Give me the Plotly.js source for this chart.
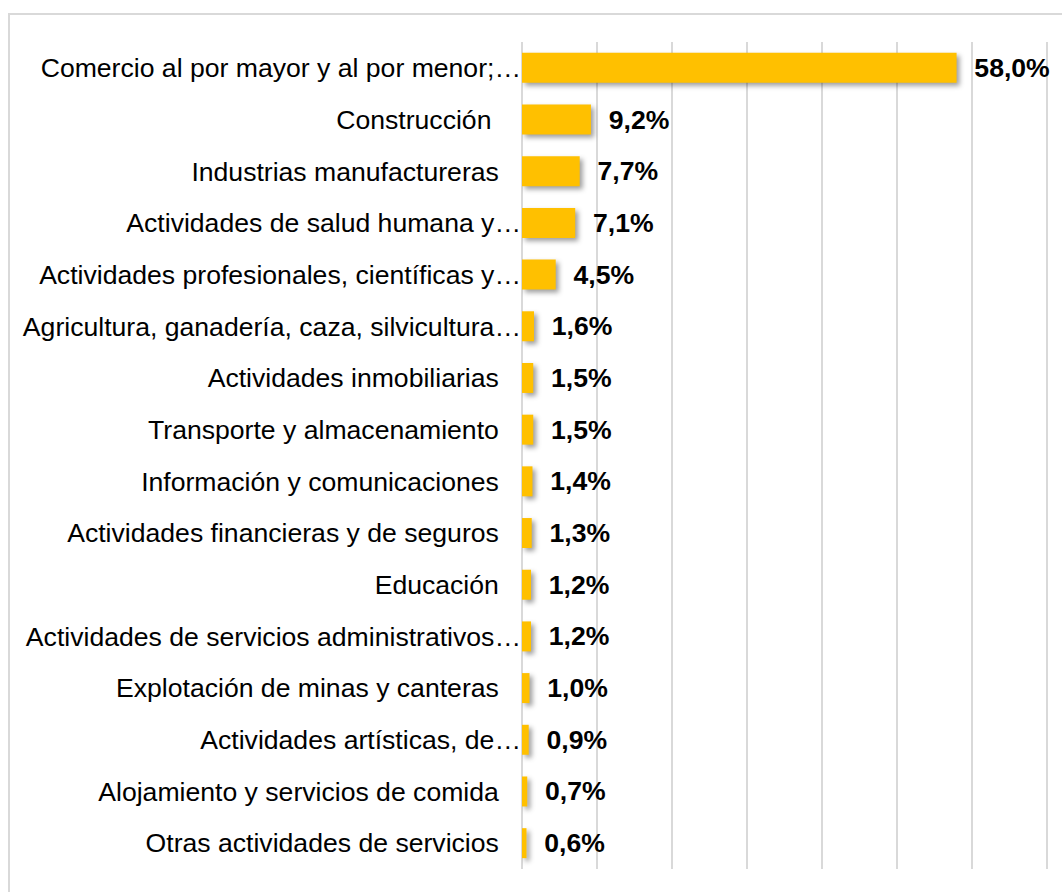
<!DOCTYPE html>
<html>
<head>
<meta charset="utf-8">
<script src="https://cdn.plot.ly/plotly-3.0.1.min.js"></script>
<style>
  html, body { margin: 0; padding: 0; background: #fff; overflow: hidden; }
  #frame { position: absolute; left: 8px; top: 13px; width: 1200px; height: 1000px; border: 2px solid #d9d9d9; box-sizing: border-box; }
  #chart { position: absolute; left: 0; top: 0; width: 1062px; height: 892px; }
  #chart .barlayer .point path { filter: drop-shadow(3px 3px 2.5px rgba(0,0,0,0.38)); }
</style>
</head>
<body>
<div id="frame"></div>
<div id="chart"></div>
<script>
const categories = [
  "Comercio al por mayor y al por menor;…",
  "Construcción ",
  "Industrias manufactureras",
  "Actividades de salud humana y…",
  "Actividades profesionales, científicas y…",
  "Agricultura, ganadería, caza, silvicultura…",
  "Actividades inmobiliarias",
  "Transporte y almacenamiento",
  "Información y comunicaciones",
  "Actividades financieras y de seguros",
  "Educación",
  "Actividades de servicios administrativos…",
  "Explotación de minas y canteras",
  "Actividades artísticas, de…",
  "Alojamiento y servicios de comida",
  "Otras actividades de servicios"
];
const values = [58.0, 9.2, 7.7, 7.1, 4.5, 1.6, 1.5, 1.5, 1.4, 1.3, 1.2, 1.2, 1.0, 0.9, 0.7, 0.6];
const gridTicks = [0, 10, 20, 30, 40, 50, 60, 70];

const NB = "\u00a0";
const tickText = categories.map(c => {
  let t = c.replace(/ +$/, m => NB.repeat(m.length));
  return t.endsWith("…") ? t : t + NB.repeat(3);
});

const FONT = "Liberation Sans, Arial, sans-serif";
const FS = 26.6;

const trace = {
  type: "bar",
  orientation: "h",
  y: categories,
  x: values,
  marker: { color: "#FFC000" },
  texttemplate: NB + NB + "%{x:.1f}%",
  textposition: "outside",
  textfont: { family: FONT, size: FS, color: "#000", weight: "bold" },
  cliponaxis: false,
  hoverinfo: "none"
};

const layout = {
  width: 1062,
  height: 892,
  margin: { l: 522, r: 8, t: 42, b: 23, autoexpand: false },
  paper_bgcolor: "rgba(0,0,0,0)",
  plot_bgcolor: "rgba(0,0,0,0)",
  separators: ",.",
  showlegend: false,
  bargap: 0.42,
  font: { family: FONT, size: FS, color: "#000" },
  xaxis: {
    range: [0, 71],
    tickmode: "array",
    tickvals: gridTicks,
    showgrid: true,
    gridcolor: "#d9d9d9",
    gridwidth: 2,
    zeroline: true,
    zerolinecolor: "#d9d9d9",
    zerolinewidth: 2,
    showticklabels: false,
    showline: false,
    fixedrange: true
  },
  yaxis: {
    type: "category",
    autorange: "reversed",
    tickmode: "array",
    tickvals: categories,
    ticktext: tickText,
    ticks: "",
    ticklabelstandoff: 0,
    showgrid: false,
    zeroline: false,
    showline: false,
    automargin: false,
    tickfont: { family: FONT, size: FS, color: "#000" },
    fixedrange: true
  }
};

Plotly.newPlot("chart", [trace], layout, { displayModeBar: false, staticPlot: true });
</script>
</body>
</html>
